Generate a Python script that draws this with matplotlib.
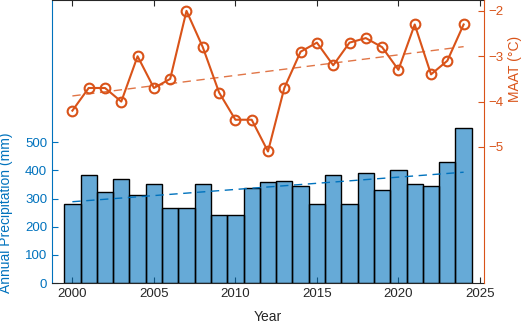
import numpy as np
import matplotlib
matplotlib.use("Agg")
import matplotlib.pyplot as plt

plt.rcParams['font.family'] = ['Liberation Sans', 'DejaVu Sans']

years = np.arange(2000, 2025)
precip = [279, 385, 322, 371, 311, 353, 265, 265, 353, 240, 240, 336, 357,
          362, 343, 279, 385, 279, 392, 329, 400, 353, 346, 431, 549]
maat = [-4.2, -3.7, -3.7, -4.0, -3.0, -3.7, -3.5, -2.0, -2.8, -3.8, -4.4, -4.4, -5.1,
        -3.7, -2.9, -2.7, -3.2, -2.7, -2.6, -2.8, -3.3, -2.3, -3.4, -3.1, -2.3]

blue = '#0072BD'
orange = '#D95319'
grey = '#262626'
fs = 9.5

fig = plt.figure(figsize=(5.24, 3.23), dpi=100)
ax = fig.add_axes([52/524, 40/323, 432/524, 283/323])
ax2 = ax.twinx()

# precipitation bars + trend
ax.bar(years, precip, width=1.0, color=blue, alpha=0.6, edgecolor='none', zorder=2)
ax.bar(years, precip, width=1.0, facecolor='none', edgecolor='black', linewidth=1.0, zorder=3)
p = np.polyfit(years, precip, 1)
ax.plot(years, np.polyval(p, years), '--', color=blue, lw=1.0, dashes=(6, 4), zorder=4)

# temperature line + trend
ax2.plot(years, maat, '-o', color=orange, lw=1.5, ms=7, mfc='none', mew=1.5, zorder=5)
q = np.polyfit(years, maat, 1)
ax2.plot(years, np.polyval(q, years), '--', color=orange, lw=1.0, dashes=(6, 4), alpha=0.8)

ax.set_xlim(1998.75, 2025.25)
ax.set_ylim(0, 1005)
ax2.set_ylim(-8.0, -1.76)

ax.set_xticks(np.arange(2000, 2026, 5))
ax.set_yticks(np.arange(0, 501, 100))
ax2.set_yticks([-5, -4, -3, -2])

ax.tick_params(axis='x', direction='in', top=True, colors=grey, labelsize=fs, length=4)
ax.tick_params(axis='y', direction='in', colors=blue, labelsize=fs, length=4)
ax2.tick_params(axis='y', direction='in', colors=orange, labelsize=fs, length=4)

ax.spines['left'].set_color(blue)
ax2.spines['left'].set_visible(False)
ax.spines['right'].set_visible(False)
ax2.spines['right'].set_color(orange)
ax.spines['bottom'].set_color(grey)
ax.spines['top'].set_color(grey)
ax2.spines['top'].set_visible(False)
ax2.spines['bottom'].set_visible(False)

ax.set_xlabel('Year', fontsize=10, color=grey)
ax.xaxis.set_label_coords(0.5, -0.095)
ax.set_ylabel('Annual Precipitation (mm)', fontsize=10, color=blue)
ax.yaxis.set_label_coords(-0.09, 0.247)
ax2.set_ylabel('MAAT (°C)', fontsize=10, color=orange, rotation=90)
ax2.yaxis.set_label_coords(1.055, 0.758)

fig.savefig('out.png', dpi=100)
